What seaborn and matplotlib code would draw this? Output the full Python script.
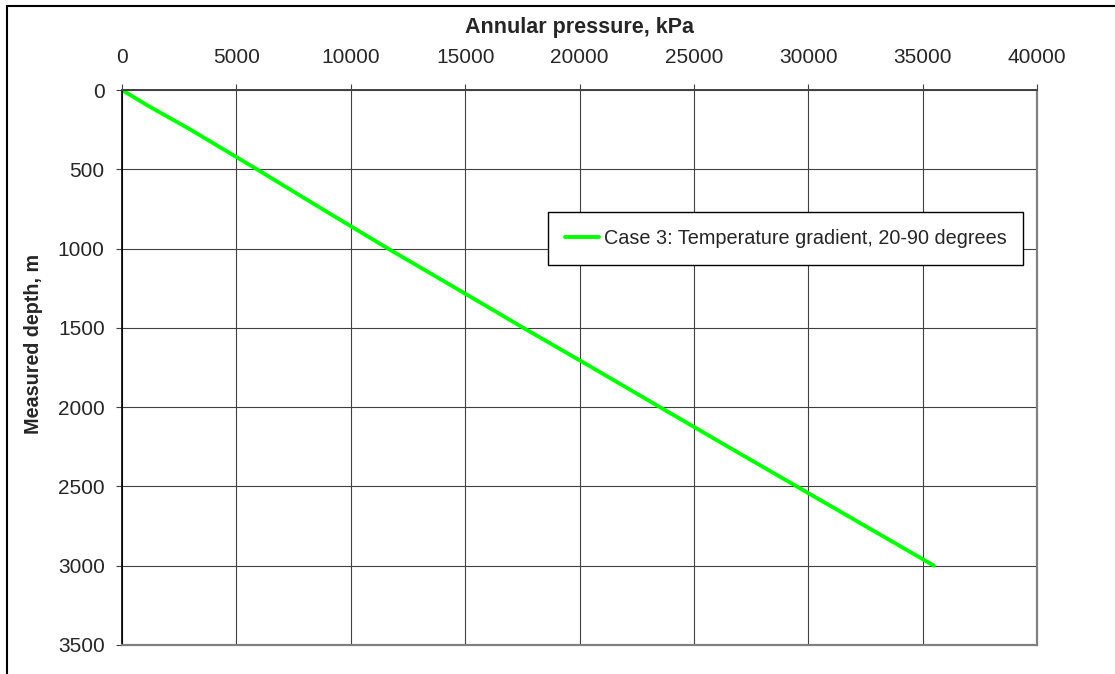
import numpy as np
import pandas as pd
import matplotlib
matplotlib.use('Agg')
import matplotlib.pyplot as plt
from matplotlib.patches import Rectangle
import seaborn as sns

# ─────────────────────────────────────────────
# DATA
# ─────────────────────────────────────────────
depth_m = [0, 100, 250, 500, 750, 1000, 1250, 1500, 1750, 2000, 2250, 2500, 2750, 3000]
pressure_kpa = [0, 1150, 3000, 5900, 8750, 11630, 14600, 17550, 20550, 23520,
                26500, 29500, 32500, 35500]
series_label = 'Case 3: Temperature gradient, 20-90 degrees'
x_ticks = [0, 5000, 10000, 15000, 20000, 25000, 30000, 35000, 40000]
y_ticks = [0, 500, 1000, 1500, 2000, 2500, 3000, 3500]

df = pd.DataFrame({'pressure': pressure_kpa, 'depth': depth_m})

sns.set_theme(style='white')
plt.rcParams['font.family'] = ['Liberation Sans', 'DejaVu Sans']

W, H = 1115, 674
fig = plt.figure(figsize=(W / 100, H / 100), dpi=100)
ax = fig.add_axes([122 / W, 1 - 645 / H, (1037 - 122) / W, (645 - 90) / H])

sns.lineplot(data=df, x='pressure', y='depth', ax=ax, color='#00FF00',
             linewidth=2.8, label=series_label, estimator=None, sort=False)

ax.set_xlim(0, 40000)
ax.set_ylim(3500, 0)
ax.set_xticks(x_ticks)
ax.set_yticks(y_ticks)
ax.xaxis.tick_top()
ax.xaxis.set_label_position('top')
ax.tick_params(axis='x', direction='out', length=4.5, width=0.8, color='#404040',
               labelsize=15, pad=12, top=True, bottom=False)
ax.tick_params(axis='y', direction='out', length=4.5, width=0.8, color='#404040',
               labelsize=15, pad=8, left=True)
ax.grid(True, color='#404040', linewidth=0.8)

ax.set_xlabel('Annular pressure, kPa', fontsize=15.5, fontweight='bold', labelpad=11)
ax.set_ylabel('Measured depth, m', fontsize=14.2, fontweight='bold')
ax.yaxis.set_label_coords(-0.086, 0.542)

ax.spines['left'].set_color('black')
ax.spines['left'].set_linewidth(1.2)
ax.spines['top'].set_color('#404040')
ax.spines['top'].set_linewidth(1.4)
for s in ['right', 'bottom']:
    ax.spines[s].set_color('#808080')
    ax.spines[s].set_linewidth(1.6)

leg = ax.legend(loc='upper left', bbox_to_anchor=(548 / W, 1 - 212 / H),
                bbox_transform=fig.transFigure, fontsize=14.3, frameon=True,
                fancybox=False, shadow=False, borderaxespad=0, borderpad=0.85,
                handlelength=1.7, handletextpad=0.25)
leg.get_frame().set_edgecolor('black')
leg.get_frame().set_linewidth(1.0)
leg.get_frame().set_alpha(1)

# outer chart frame (clipped at right / bottom like the reference)
fig.patches.append(Rectangle((7 / W, -0.1), 1.2, 1 - 6 / H + 0.1,
                             transform=fig.transFigure, fill=False,
                             edgecolor='black', linewidth=1.5))

plt.savefig('out.png', dpi=100)
